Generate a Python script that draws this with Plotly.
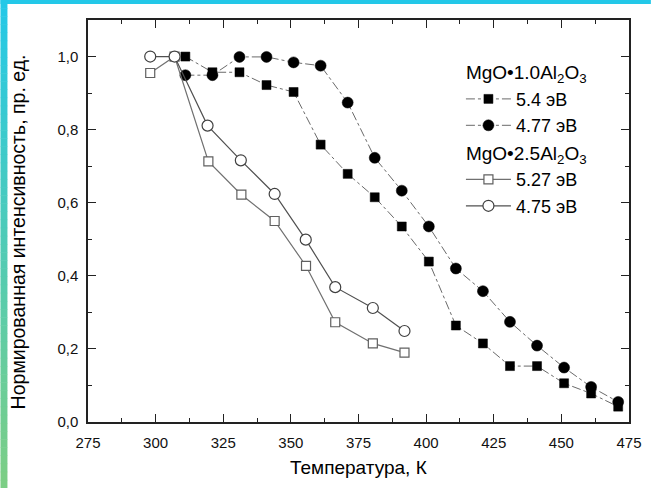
import plotly.graph_objects as go

# ---- data ----
t_sq_1 = [311, 321, 331, 341, 351, 361, 371, 381, 391, 401, 411, 421, 431, 441, 451, 461, 471]
i_sq_1 = [1.0, 0.957, 0.957, 0.922, 0.903, 0.759, 0.679, 0.615, 0.535, 0.439, 0.264, 0.215, 0.153, 0.153, 0.106, 0.078, 0.042]

t_ci_1 = [311, 321, 331, 341, 351, 361, 371, 381, 391, 401, 411, 421, 431, 441, 451, 461, 471]
i_ci_1 = [0.949, 0.949, 0.999, 0.999, 0.984, 0.975, 0.874, 0.723, 0.633, 0.535, 0.42, 0.358, 0.274, 0.209, 0.149, 0.096, 0.055]

t_sq_2 = [298, 307, 319.5, 331.7, 344, 355.6, 366.4, 380.3, 392]
i_sq_2 = [0.955, 1.0, 0.713, 0.622, 0.55, 0.427, 0.273, 0.215, 0.19]

t_ci_2 = [298, 307, 319.2, 331.5, 344, 355.5, 366.4, 380.3, 392]
i_ci_2 = [1.0, 1.0, 0.811, 0.716, 0.624, 0.499, 0.369, 0.312, 0.249]

x_ticks = [275, 300, 325, 350, 375, 400, 425, 450, 475]
y_ticks = [0.0, 0.2, 0.4, 0.6, 0.8, 1.0]
y_tick_text = ["0,0", "0,2", "0,4", "0,6", "0,8", "1,0"]

names = ["5.4 эВ", "4.77 эВ", "5.27 эВ", "4.75 эВ"]
group_titles = ["MgO•1.0Al<sub>2</sub>O<sub>3</sub>", "MgO•2.5Al<sub>2</sub>O<sub>3</sub>"]

FONT = "Liberation Sans, Arial, sans-serif"
LEG_SIZE = 18

fig = go.Figure()

# circles drawn first (squares overlap them), legend order via legendrank
fig.add_trace(go.Scatter(
    x=t_ci_1, y=i_ci_1, mode="lines+markers", name=names[1],
    legendgroup="g1", legendrank=2,
    line=dict(color="#6a6a6a", width=1, dash="dashdot"),
    marker=dict(symbol="circle", size=11, color="black", line=dict(color="black", width=0.5)),
))
fig.add_trace(go.Scatter(
    x=t_sq_1, y=i_sq_1, mode="lines+markers", name=names[0],
    legendgroup="g1", legendrank=1,
    legendgrouptitle=dict(text=group_titles[0], font=dict(size=LEG_SIZE + 1, color="black", family=FONT)),
    line=dict(color="#6a6a6a", width=1, dash="dashdot"),
    marker=dict(symbol="square", size=9, color="black", line=dict(color="black", width=0.5)),
))
fig.add_trace(go.Scatter(
    x=t_sq_2, y=i_sq_2, mode="lines+markers", name=names[2],
    legendgroup="g2", legendrank=3,
    legendgrouptitle=dict(text=group_titles[1], font=dict(size=LEG_SIZE + 1, color="black", family=FONT)),
    line=dict(color="#707070", width=1.2),
    marker=dict(symbol="square", size=9, color="white", line=dict(color="#606060", width=1.2)),
))
fig.add_trace(go.Scatter(
    x=t_ci_2, y=i_ci_2, mode="lines+markers", name=names[3],
    legendgroup="g2", legendrank=4,
    line=dict(color="#505050", width=1.2),
    marker=dict(symbol="circle", size=11, color="white", line=dict(color="#404040", width=1.2)),
))

# decorative border (top cyan strip, left gradient strip)
L, R, T, B = 88, 632, 20, 422
def xp(px):
    return (px - L) / (R - L)
def yp(py):
    return (B - py) / (B - T)

shapes = []
shapes.append(dict(type="rect", xref="paper", yref="paper", x0=xp(0), x1=xp(654), y0=yp(4), y1=yp(0),
                   fillcolor="rgb(35,200,232)", line=dict(width=0), layer="below"))
n = 60
c0 = (35, 200, 232)
c1 = (125, 206, 132)
for k in range(n):
    f = (k + 0.5) / n
    col = tuple(int(round(c0[j] + (c1[j] - c0[j]) * f)) for j in range(3))
    shapes.append(dict(type="rect", xref="paper", yref="paper",
                       x0=xp(0), x1=xp(7), y0=yp(488 * (k + 1) / n + 0.5), y1=yp(488 * k / n),
                       fillcolor="rgb(%d,%d,%d)" % col, line=dict(width=0), layer="below"))

axis_common = dict(
    showline=True, linecolor="#222", linewidth=1.5, mirror="ticks",
    ticks="inside", ticklen=8, tickwidth=1.2, tickcolor="#222",
    showgrid=False, zeroline=False,
    tickfont=dict(size=15, color="#111", family=FONT),
)

fig.update_layout(
    width=654, height=488,
    margin=dict(l=L, r=654 - R, t=T, b=488 - B),
    paper_bgcolor="white", plot_bgcolor="white",
    font=dict(family=FONT, color="black"),
    showlegend=True,
    legend=dict(x=xp(463), y=yp(53), xanchor="left", yanchor="top",
                bgcolor="rgba(0,0,0,0)", font=dict(size=LEG_SIZE, color="black", family=FONT),
                tracegroupgap=0, itemwidth=45, traceorder="grouped"),
    shapes=shapes,
    annotations=[
        dict(text="Температура, К", xref="paper", yref="paper", x=0.5, y=yp(467),
             xanchor="center", yanchor="middle", showarrow=False,
             font=dict(size=19, color="black", family=FONT)),
        dict(text="Нормированная интенсивность, пр. ед.", xref="paper", yref="paper",
             x=xp(18), y=yp(232), xanchor="center", yanchor="middle", textangle=-90,
             showarrow=False, font=dict(size=19.5, color="black", family=FONT)),
    ],
)

fig.update_xaxes(range=[275, 475], tickvals=x_ticks, ticktext=[str(v) for v in x_ticks],
                 minor=dict(dtick=12.5, tick0=275, ticks="inside", ticklen=4, tickcolor="#222"),
                 ticklabelstandoff=6, **axis_common)
fig.update_yaxes(range=[0, 1.1], tickvals=y_ticks, ticktext=y_tick_text,
                 minor=dict(dtick=0.1, tick0=0, ticks="inside", ticklen=4, tickcolor="#222"),
                 ticklabelstandoff=5, **axis_common)

fig.write_html("out.html")
